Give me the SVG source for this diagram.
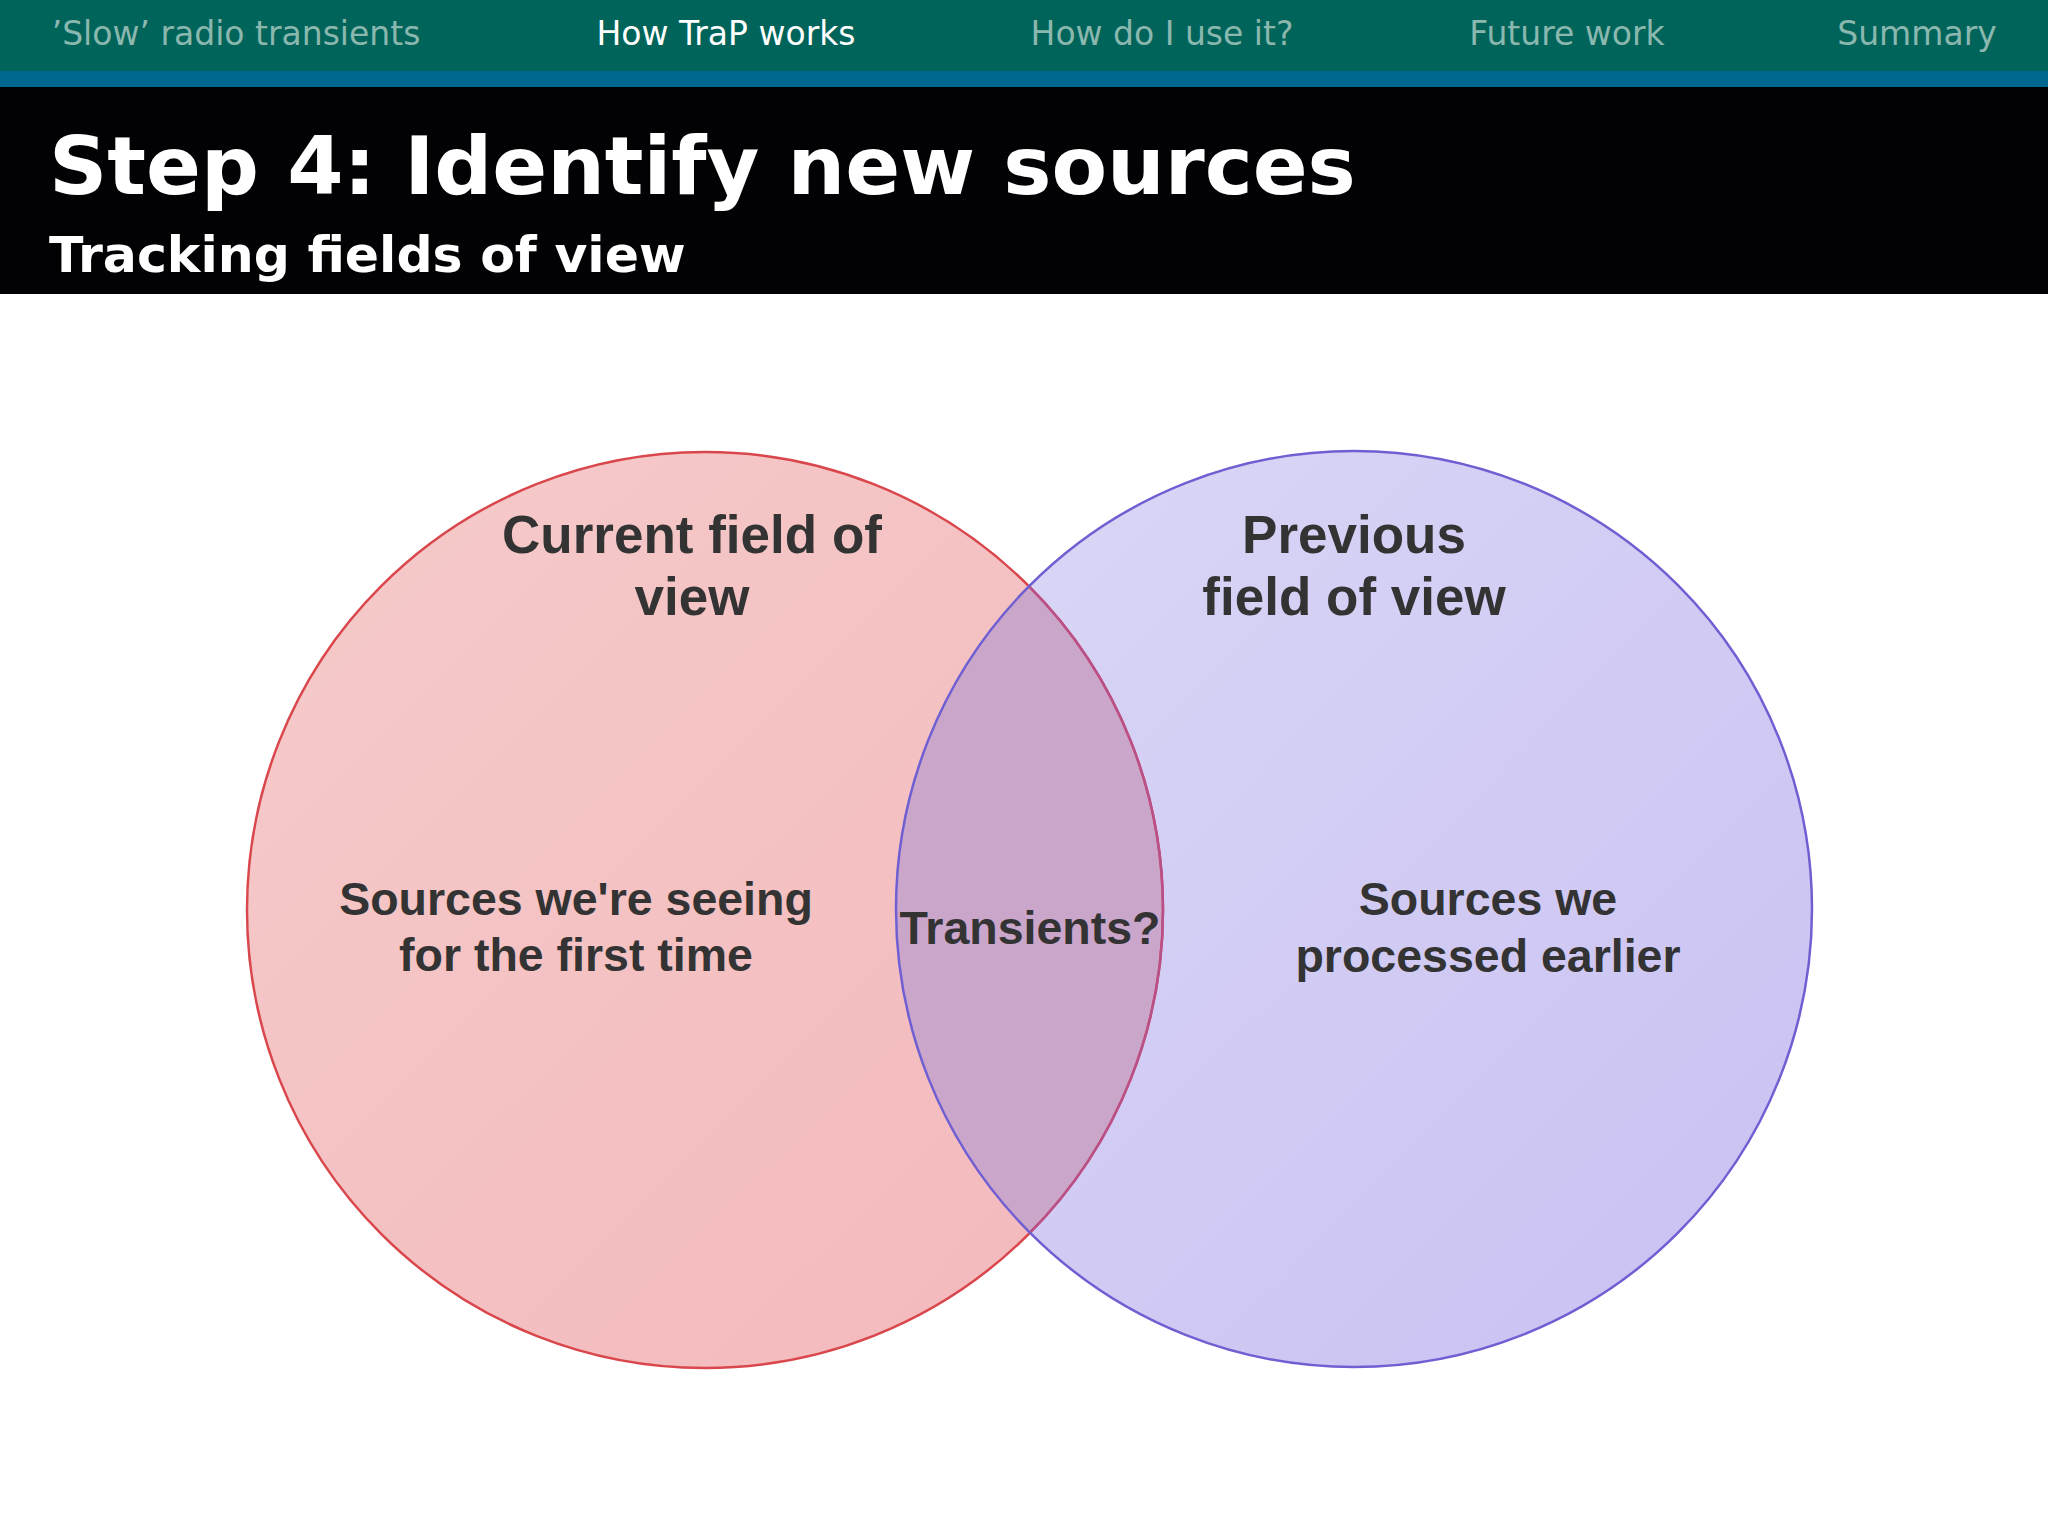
<svg xmlns="http://www.w3.org/2000/svg" width="2048" height="1536" viewBox="0 0 2048 1536">
<style>
.nav{font-family:"DejaVu Sans",sans-serif;font-size:33px;text-anchor:middle;fill:#8ab7ae}
.lbl{font-family:"Liberation Sans",Arial,sans-serif;font-weight:bold;fill:#333;text-anchor:middle}
</style>
<defs>
<linearGradient id="gl" x1="0" y1="0" x2="1" y2="1"><stop offset="0" stop-color="#f6cbcb"/><stop offset="1" stop-color="#f3b8bb"/></linearGradient>
<linearGradient id="gr" x1="0" y1="0" x2="1" y2="1"><stop offset="0" stop-color="#dad8f6"/><stop offset="1" stop-color="#c9c0f2"/></linearGradient>
<clipPath id="cl"><circle cx="705" cy="910" r="458"/></clipPath>
<clipPath id="cr"><circle cx="1354" cy="909" r="458"/></clipPath>
</defs>
<rect width="2048" height="1536" fill="#fff"/>
<rect width="2048" height="72" fill="#00645a"/>
<rect y="71" width="2048" height="16" fill="#00688f"/>
<rect y="87" width="2048" height="207" fill="#020104"/>
<g id="nav">
<text class="nav" x="236" y="45">’Slow’ radio transients</text>
<text class="nav" x="726" y="45" style="fill:#fff">How TraP works</text>
<text class="nav" x="1162" y="45">How do I use it?</text>
<text class="nav" x="1567" y="45">Future work</text>
<text class="nav" x="1917" y="45">Summary</text>
</g>
<text x="49" y="194" font-family="DejaVu Sans, sans-serif" font-weight="bold" font-size="81" fill="#fff">Step 4: Identify new sources</text>
<text x="49" y="272" font-family="DejaVu Sans, sans-serif" font-weight="bold" font-size="50.5" fill="#fff">Tracking fields of view</text>
<g id="current">
<circle cx="705" cy="910" r="458" fill="url(#gl)"/>
</g>
<g id="previous">
<circle cx="1354" cy="909" r="458" fill="url(#gr)"/>
</g>
<g id="overlap">
<circle cx="1354" cy="909" r="458" fill="#cba6cb" clip-path="url(#cl)"/>
</g>
<circle cx="705" cy="910" r="458" fill="none" stroke="#d9474c" stroke-width="2.5"/>
<circle cx="705" cy="910" r="458" fill="none" stroke="#b8508a" stroke-width="2.5" clip-path="url(#cr)"/>
<circle cx="1354" cy="909" r="458" fill="none" stroke="#6f5fd2" stroke-width="2.5"/>
<text class="lbl" font-size="53" x="692" y="553">Current field of</text>
<text class="lbl" font-size="53" x="692" y="615">view</text>
<text class="lbl" font-size="53" x="1354" y="553">Previous</text>
<text class="lbl" font-size="53" x="1354" y="615">field of view</text>
<text class="lbl" font-size="46.5" x="576" y="915">Sources we're seeing</text>
<text class="lbl" font-size="46.5" x="576" y="971">for the first time</text>
<text class="lbl" font-size="46.5" x="1030" y="944">Transients?</text>
<text class="lbl" font-size="46.5" x="1488" y="915">Sources we</text>
<text class="lbl" font-size="46.5" x="1488" y="972">processed earlier</text>
</svg>
